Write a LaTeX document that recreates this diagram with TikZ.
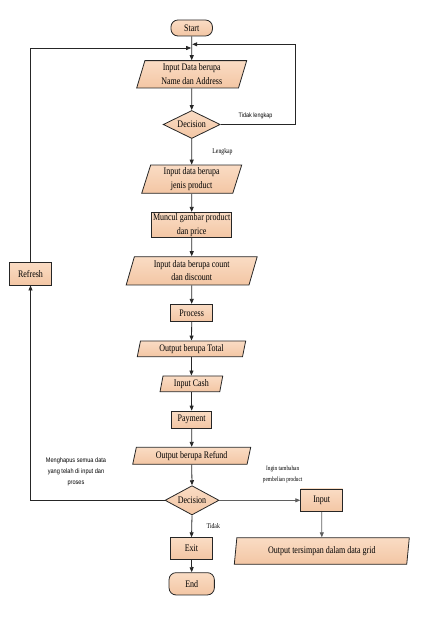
\documentclass[tikz,border=0pt]{standalone}
\usepackage{fontspec}
\setmainfont{Liberation Serif}[FakeStretch=0.8]
\newfontfamily\notefont{Liberation Sans}[FakeStretch=0.85]
\usetikzlibrary{shapes.geometric,arrows.meta}
\definecolor{peach}{RGB}{243,198,164}
\definecolor{peachtop}{RGB}{250,220,196}
\definecolor{linkgray}{RGB}{95,95,95}

\begin{document}
\begin{tikzpicture}[x=1pt, y=-1pt,
  every node/.style={font=\fontsize{10}{13.5}\selectfont},
  box/.style={draw=black!85, line width=0.8pt, top color=peachtop, bottom color=peach, align=center, inner sep=1pt},
  proc/.style={box, rectangle},
  term/.style={box, rectangle, rounded corners=7pt},
  io/.style 2 args={box, trapezium, trapezium stretches body, trapezium left angle=#1, trapezium right angle=#2},
  decision/.style={box, diamond, aspect=2, inner sep=0pt},
  arrow/.style={-{Triangle[length=5pt,width=4pt]}, line width=0.8pt, draw=black!85},
  note/.style={font=\notefont\fontsize{6.6}{11}\selectfont, align=center},
  label/.style={font=\fontsize{7.2}{10.7}\selectfont, align=center}]

\useasboundingbox (0,0) rectangle (422,620);

% main column
\node[term, minimum width=41.5, minimum height=16] (start) at (191.7,28) {Start};
\node[io={70}{110}, minimum width=110, minimum height=27.3] (in1) at (191.7,74.3) {Input Data berupa\\Name dan Address};
\node[decision, minimum width=57, minimum height=28] (dec1) at (191.7,124.5) {Decision};
\node[io={70}{110}, minimum width=100, minimum height=28.3] (in2) at (191.7,179.2) {Input data berupa\\jenis product};
\node[proc, minimum width=80, minimum height=25.4] (show) at (191.7,225) {Muncul gambar product\\dan price};
\node[io={70}{110}, minimum width=131, minimum height=28.3] (in3) at (191.7,270.8) {Input data berupa count\\dan discount};
\node[proc, minimum width=42, minimum height=17.4] (process) at (191.7,313) {Process};
\node[io={74}{106}, minimum width=108.4, minimum height=15.7] (total) at (191.5,348.8) {Output berupa Total};
\node[io={75}{105}, minimum width=62.7, minimum height=15.7] (cash) at (191.4,383.8) {Input Cash};
\node[proc, minimum width=40, minimum height=17.3] (payment) at (191.7,419.7) {Payment};
\node[io={72}{108}, minimum width=118, minimum height=17] (refund) at (191.7,455.8) {Output berupa Refund};
\node[decision, minimum width=54, minimum height=29.3] (dec2) at (192,500.3) {Decision};
\node[proc, minimum width=41.6, minimum height=21.6] (exit) at (191.5,548.5) {Exit};
\node[term, minimum width=45.3, minimum height=22.3] (end) at (191.7,583.8) {End};

% side boxes
\node[proc, minimum width=42.4, minimum height=22.7] (refresh) at (30.5,273.7) {Refresh};
\node[proc, minimum width=42, minimum height=22.7] (input) at (321.7,500.3) {Input};
\node[io={77}{103}, minimum width=175, minimum height=26.6] (grid) at (321.8,551) {Output tersimpan dalam data grid};

% labels
\node[note, font=\notefont\fontsize{6.4}{7}\selectfont] (notcomplete) at (255.5,116) {Tidak lengkap};
\node[label] (complete) at (222.5,151.7) {Lengkap};
\node[note] (clearnote) at (76,471.7) {Menghapus semua data\\yang telah di input dan\\proses};
\node[label, font=\fontsize{6.6}{10.7}\selectfont] (morenote) at (282.7,474.7) {Ingin tambahan\\pembelian product};
\node[label] (no) at (213.3,526) {Tidak};

\coordinate (jl) at (191.2,48);
\coordinate (jr) at (192.2,44.3);

\foreach \a/\b in {start/in1, in1/dec1, dec1/in2, in2/show, show/in3, in3/process,
    process/total, total/cash, cash/payment, payment/refund, refund/dec2, dec2/exit, exit/end}
  \draw[arrow] (\a.south) -- (\b.north);

\draw[arrow] (dec1.east) -- ++(74.3,0) |- (jr);
\draw[arrow] (dec2.west) -| (refresh.south);
\draw[arrow] (refresh.north) |- (jl);
\draw[arrow, draw=linkgray] (dec2.east) -- (input.west);
\draw[arrow, draw=linkgray] (input.south) -- (grid.north);

\end{tikzpicture}
\end{document}
